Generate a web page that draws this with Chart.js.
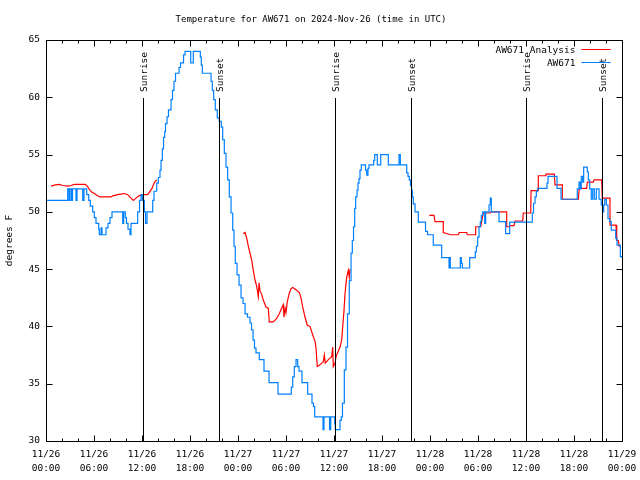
<!DOCTYPE html>
<html><head><meta charset="utf-8">
<script src="https://cdn.jsdelivr.net/npm/chart.js@4.4.1/dist/chart.umd.min.js"></script>
<style>html,body{margin:0;padding:0;background:#fff;}canvas{display:block;}</style>
</head><body>
<canvas id="c" width="640" height="480"></canvas>
<script>
const chartTitle = 'Temperature for AW671 on 2024-Nov-26 (time in UTC)';
const yAxisTitle = 'degrees F';
const seriesNames = ['AW671 Analysis', 'AW671'];
const xTickLabels = [['11/26','00:00'],['11/26','06:00'],['11/26','12:00'],['11/26','18:00'],
  ['11/27','00:00'],['11/27','06:00'],['11/27','12:00'],['11/27','18:00'],
  ['11/28','00:00'],['11/28','06:00'],['11/28','12:00'],['11/28','18:00'],['11/29','00:00']];
const sunHours = [12.13, 21.63, 36.13, 45.63, 60.0, 69.5];
const sunNames = ['Sunrise','Sunset','Sunrise','Sunset','Sunrise','Sunset'];

// AW671 observations (hours since 11/26 00:00 UTC, deg F)
const obsHours = [
 0,2.71,2.88,3.00,3.19,3.31,3.75,3.88,4.59,4.75,
 5.09,5.34,5.54,5.84,6.04,6.25,6.59,6.66,6.88,7.00,
 7.50,7.75,8.00,8.25,9.59,9.71,9.91,10.06,10.25,10.50,
 10.63,11.46,11.69,11.88,12.06,12.29,12.44,12.63,13.34,13.50,
 13.84,14.04,14.25,14.38,14.54,14.69,14.84,14.94,15.13,15.31,
 15.63,15.81,16.00,16.19,16.63,16.81,17.19,17.38,18.09,18.41,
 19.29,19.41,19.54,20.63,20.79,20.96,21.16,21.41,21.66,21.91,
 22.09,22.29,22.50,22.71,22.91,23.13,23.34,23.50,23.66,23.88,
 24.13,24.38,24.63,24.88,25.19,25.50,25.69,25.88,26.06,26.25,
 26.66,27.25,27.88,29.00,30.66,30.84,31.04,31.25,31.46,31.63,
 32.00,32.71,33.25,33.44,33.59,34.63,34.75,35.44,35.59,36.09,
 36.16,36.75,36.91,37.06,37.29,37.50,37.69,37.91,38.13,38.29,
 38.44,38.59,38.71,38.88,39.00,39.13,39.25,39.41,39.94,40.09,
 40.25,40.38,40.96,41.09,41.41,41.84,42.79,44.13,44.29,45.09,
 45.25,45.41,45.56,45.69,45.79,45.91,46.13,46.54,47.44,47.69,
 48.41,49.46,50.38,50.46,50.54,51.79,51.91,52.04,52.96,53.66,
 53.79,53.96,54.13,54.29,54.41,54.59,54.84,54.96,55.38,55.54,
 55.66,56.63,57.46,57.96,60.79,60.94,61.13,61.29,61.46,62.63,
 62.75,63.88,64.38,66.41,66.63,66.79,66.91,67.09,67.21,67.66,
 67.79,67.96,68.16,68.34,68.54,68.79,69.13,69.41,69.56,69.71,
 69.84,70.04,70.25,70.46,70.66,71.21,71.38,71.79,72.00];
const obsTemps = [
 51,52,51,52,51,52,51,52,51,52,
 51.5,51,50.5,50,49.5,49,48.5,48,48.6,48,
 48.6,49,49.5,50,49,50,49.5,49,48.5,48,
 49,50,51,51.5,51,50,49,50,51,51.8,
 52.5,53,53.65,54.5,55.5,56.5,57,57.7,58.3,58.9,
 59.8,60.6,61.4,62.1,62.6,63,63.7,64,63,64,
 63.5,62.8,62.1,61.4,60.6,59.8,58.9,58.2,57.9,57.4,
 56.3,55.1,53.9,52.8,51.3,49.9,48.4,47,45.5,44.5,
 43.6,42.5,42,41.1,40.8,40.3,39.7,38.8,38.1,37.7,
 37.1,36.1,35.1,34.1,34.7,35.6,36.5,37.1,36.5,36.1,
 35.1,34.1,33.3,33,32.1,31,32.1,31,32.1,31.5,
 31,31.8,32.1,33.3,36.2,38.2,41.1,44,46.4,47.5,
 48.7,50.3,51.3,51.9,52.5,52.9,53.65,54.1,53.65,53.2,
 53.8,54.1,54.5,55,54.1,55,54.1,55,54.1,53.4,
 53.1,52.8,52.3,51.9,51.3,50.7,50,49.1,48.3,48,
 47.1,46,45.1,46,45.1,46,45.5,45.1,46,46.5,
 47,47.8,48.7,49.15,49.7,50,49,50,50.6,51.2,
 50,49.15,48.1,49.1,49.9,50.75,51.3,51.8,52.05,52.5,
 53.1,52.05,51.1,52,52.6,52,53.1,52.6,53.9,53.5,
 52.8,52,51.1,52,51.1,52,51.1,50.6,50,50.6,
 51.1,50.6,49.4,49.15,48.4,47.7,47.1,46.1,46];

// AW671 Analysis (null = gap)
const anaHours = [
 0.63,1.16,1.66,2.09,2.71,3.13,3.54,4.91,5.21,5.41,
 5.75,6.04,6.46,6.75,8.13,8.34,8.96,9.38,9.79,10.21,
 10.63,10.91,11.25,11.59,12.09,12.71,12.91,13.25,13.54,13.84,
 14,
 24.66,24.88,25.09,25.29,25.5,25.71,25.91,26.13,26.34,26.54,
 26.63,26.75,26.96,27.16,27.5,27.79,27.91,28.41,28.84,29.16,
 29.46,29.66,29.75,29.88,30.0,30.16,30.41,30.63,30.84,31.25,
 31.66,31.84,32.09,32.38,32.66,33.0,33.21,33.41,33.63,33.75,
 33.91,34.16,34.46,34.66,34.79,34.91,35.29,35.71,35.84,35.91,
 36.13,36.25,36.41,36.75,36.96,37.09,37.25,37.38,37.59,37.79,
 37.91,38.0,
 40,
 47.91,48.5,48.63,49.66,49.66,50.59,51.54,51.66,52.59,52.66,
 53.63,53.71,54.34,54.46,54.66,55.5,55.63,57.59,57.59,57.91,
 58.0,58.5,58.63,59.59,59.66,60.59,60.63,61.54,61.54,62.5,
 62.5,63.54,63.63,64.54,64.54,66.54,66.66,67.59,67.66,68.41,
 68.5,69.46,69.54,70.5,70.5,71.25,71.34,71.54,71.66,71.88];
const anaTemps = [
 52.25,52.35,52.4,52.3,52.25,52.3,52.4,52.4,52.2,51.95,
 51.7,51.6,51.4,51.3,51.3,51.4,51.5,51.55,51.6,51.5,
 51.2,51.0,51.2,51.4,51.5,51.5,51.7,52.05,52.55,52.8,
 null,
 48.1,48.2,47.7,47.0,46.4,45.8,44.9,44.05,43.5,42.6,
 43.8,43.1,42.8,42.3,41.7,41.6,40.4,40.4,40.7,41.1,
 41.6,41.9,40.8,41.6,41.2,42.15,42.9,43.3,43.4,43.2,
 42.95,42.6,41.7,40.8,40.1,40.0,39.55,39.1,38.7,38.1,
 36.5,36.6,36.8,36.9,37.5,36.8,37.1,37.35,38.2,36.5,
 36.8,37.35,37.65,38.2,38.8,40.0,41.4,42.9,44.3,44.9,
 44.3,45.0,
 null,
 49.7,49.7,49.15,49.15,48.2,48.0,48.0,48.2,48.2,48.0,
 48.0,48.7,48.7,49.15,49.9,49.9,50.0,50.0,48.7,48.7,
 48.8,48.8,49.2,49.2,49.9,49.9,51.85,51.85,53.15,53.15,
 53.3,53.3,52.35,52.35,51.1,51.1,52.05,52.05,52.6,52.6,
 52.8,52.8,51.2,51.2,48.85,48.85,47.5,47.5,47.0,47.0];

const RED = 'rgb(255,0,0)';
const BLUE = 'rgb(0,128,255)';
const FONT = "'DejaVu Sans Mono', 'Liberation Mono', monospace";
const FS = 9.5;

const obsData = obsHours.map((h, i) => ({x: h, y: obsTemps[i]}));
const anaData = anaHours.map((h, i) => ({x: h, y: anaTemps[i]}));

const gnuplotDecor = {
  id: 'gnuplotDecor',
  afterDatasetsDraw(chart) {
    const ctx = chart.ctx, ca = chart.chartArea;
    const xs = chart.scales.x, ys = chart.scales.y;
    ctx.save();
    ctx.strokeStyle = '#000'; ctx.lineWidth = 1; ctx.fillStyle = '#000';
    // sunrise / sunset lines
    const topY = Math.round(ys.getPixelForValue(60)) + 1;
    ctx.font = FS + 'px ' + FONT;
    sunHours.forEach((h, i) => {
      const x = Math.round(xs.getPixelForValue(h)) + 0.5;
      ctx.beginPath(); ctx.moveTo(x, topY); ctx.lineTo(x, ca.bottom); ctx.stroke();
      ctx.save();
      ctx.translate(x + 1, topY - 6);
      ctx.rotate(-Math.PI / 2);
      ctx.textAlign = 'left'; ctx.textBaseline = 'middle';
      ctx.fillText(sunNames[i], 0, 0);
      ctx.restore();
    });
    // frame
    const L = Math.round(ca.left) + 0.5, R = Math.round(ca.right) + 0.5;
    const T = Math.round(ca.top) + 0.5, B = Math.round(ca.bottom) + 0.5;
    ctx.strokeRect(L, T, R - L, B - T);
    // ticks (inward, mirrored)
    ctx.beginPath();
    xs.ticks.forEach(t => {
      const x = Math.round(xs.getPixelForValue(t.value)) + 0.5;
      const len = (t.value % 6 === 0) ? 6 : 3;
      ctx.moveTo(x, B); ctx.lineTo(x, B - len);
      ctx.moveTo(x, T); ctx.lineTo(x, T + len);
    });
    ys.ticks.forEach(t => {
      const y = Math.round(ys.getPixelForValue(t.value)) + 0.5;
      ctx.moveTo(L, y); ctx.lineTo(L + 6, y);
      ctx.moveTo(R, y); ctx.lineTo(R - 6, y);
    });
    ctx.stroke();
    // legend
    ctx.textAlign = 'right'; ctx.textBaseline = 'middle';
    const lx1 = R - 41, lx2 = R - 12;
    ctx.fillText(seriesNames[0], lx1 - 6, T + 10);
    ctx.fillText(seriesNames[1], lx1 - 6, T + 23);
    ctx.strokeStyle = RED; ctx.beginPath(); ctx.moveTo(lx1, T + 9); ctx.lineTo(lx2, T + 9); ctx.stroke();
    ctx.strokeStyle = BLUE; ctx.beginPath(); ctx.moveTo(lx1, T + 22); ctx.lineTo(lx2, T + 22); ctx.stroke();
    // y axis title
    ctx.save();
    ctx.translate(10, (ca.top + ca.bottom) / 2);
    ctx.rotate(-Math.PI / 2);
    ctx.textAlign = 'center'; ctx.textBaseline = 'middle';
    ctx.fillText(yAxisTitle, 0, 0);
    ctx.restore();
    ctx.restore();
  }
};

new Chart(document.getElementById('c'), {
  type: 'line',
  data: {
    datasets: [
      { label: seriesNames[1], data: obsData, borderColor: BLUE, borderWidth: 1.2,
        pointRadius: 0, stepped: true, order: 0, spanGaps: false },
      { label: seriesNames[0], data: anaData, borderColor: RED, borderWidth: 1.2,
        pointRadius: 0, tension: 0, order: 1, spanGaps: false }
    ]
  },
  options: {
    responsive: false, animation: false, devicePixelRatio: 1,
    layout: { padding: { left: 0, right: 18, top: 0, bottom: 0 } },
    plugins: {
      legend: { display: false }, tooltip: { enabled: false },
      title: { display: true, text: chartTitle, color: '#000',
        font: { family: FONT, size: 9, weight: 'normal', lineHeight: 1.2 },
        padding: { top: 14, bottom: 15.2 } }
    },
    scales: {
      x: {
        type: 'linear', min: 0, max: 72,
        grid: { display: false, drawTicks: false }, border: { display: false },
        ticks: { stepSize: 2, autoSkip: false, maxRotation: 0, minRotation: 0, padding: 6,
          color: '#000', font: { family: FONT, size: FS, lineHeight: 1.5 },
          callback: v => (v % 6 === 0) ? xTickLabels[v / 6] : '' },
        afterFit: s => { s.height = 39; s.paddingLeft = 0; s.paddingRight = 0; }
      },
      y: {
        min: 30, max: 65,
        grid: { display: false, drawTicks: false }, border: { display: false },
        ticks: { stepSize: 5, padding: 6, color: '#000', font: { family: FONT, size: FS } },
        afterFit: s => { s.width = 46; }
      }
    }
  },
  plugins: [gnuplotDecor]
});
</script>
</body></html>
